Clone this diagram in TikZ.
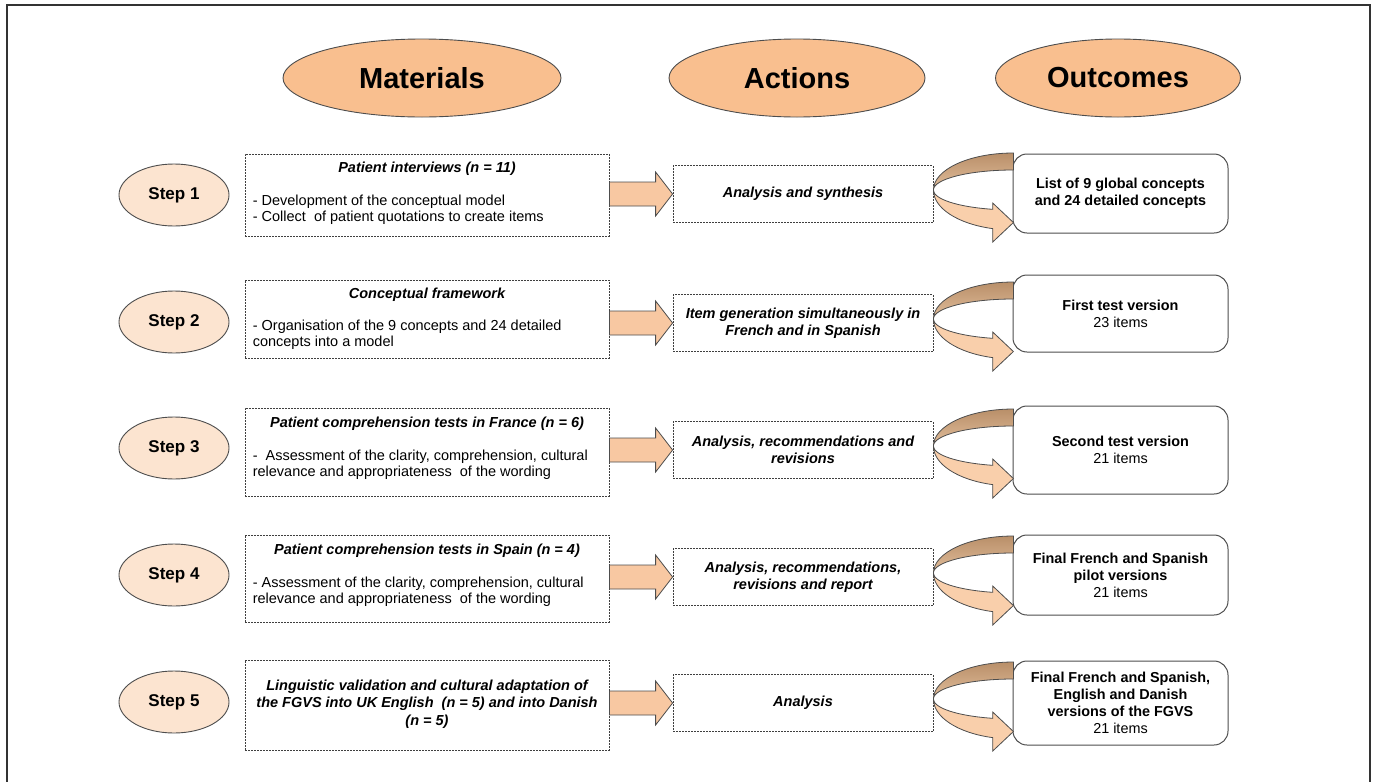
\documentclass[tikz,border=0pt]{standalone}
\usepackage{fontspec}
\setmainfont{Liberation Sans}
\usetikzlibrary{shapes.geometric,calc}
\definecolor{edgec}{HTML}{4D4D4D}
\definecolor{hdrfill}{HTML}{F9BF8F}
\definecolor{stepfill}{HTML}{FCE4D0}
\definecolor{arrfill}{HTML}{F8C8A2}
\definecolor{backtop}{HTML}{B98F69}
\definecolor{backbot}{HTML}{E6C3A1}
\definecolor{frontfill}{HTML}{F9CFAB}
\definecolor{dashc}{HTML}{3F3F3F}
\begin{document}
\begin{tikzpicture}[x=1pt,y=-1pt,
 hdr/.style={ellipse,draw=edgec,fill=hdrfill,line width=0.9pt,inner sep=0pt,minimum height=78pt,font=\bfseries\fontsize{29}{34}\selectfont},
 stepnode/.style={ellipse,draw=edgec,fill=stepfill,line width=0.9pt,minimum width=110pt,minimum height=62pt,inner sep=0pt,font=\bfseries\fontsize{17}{20}\selectfont},
 dbox/.style={draw=dashc,dash pattern=on 2pt off 1pt,line width=0.8pt,inner sep=0pt},
 matbox/.style={dbox,minimum width=364pt},
 actbox/.style={dbox,minimum width=260pt,minimum height=57pt,align=center,font=\bfseries\itshape\fontsize{14.5}{17}\selectfont},
 outbox/.style={draw=edgec,line width=1pt,rounded corners=14pt,minimum width=215pt,inner sep=0pt,align=center,font=\bfseries\fontsize{14.4}{17}\selectfont},
 ttl/.style={font=\bfseries\itshape\fontsize{14.5}{17}\selectfont,inner sep=0pt,align=center},
 body/.style={font=\fontsize{14.5}{16.5}\selectfont,align=left,inner sep=0pt,anchor=west},
 barrow/.style={draw=edgec,fill=arrfill,line width=0.8pt,line join=miter},
 backband/.style={draw=edgec,line width=0.8pt,top color=backtop,bottom color=backbot},
 frontband/.style={draw=edgec,line width=0.8pt,fill=frontfill}
]
\useasboundingbox (0,0) rectangle (1377,782);
\fill[white] (0,0) rectangle (1377,782);
\draw[line width=1.2pt,black!80] (7,782) -- (7,5) -- (1370,5) -- (1370,782);

% headers
\node[hdr,minimum width=278pt] (hm) at (422,78) {Materials};
\node[hdr,minimum width=256pt] (ha) at (797,78) {Actions};
\node[hdr,minimum width=245pt] (ho) at (1118,78) {Outcomes};

% steps
\node[stepnode] (s1) at (174,195) {Step 1};
\node[stepnode] (s2) at (174,322) {Step 2};
\node[stepnode] (s3) at (174,448) {Step 3};
\node[stepnode] (s4) at (174,575) {Step 4};
\node[stepnode] (s5) at (174,702) {Step 5};

% materials
\node[matbox,minimum height=82pt] (m1) at (427,195) {};
\node[ttl] (m1t) at ($(m1.north)+(0,15)$) {Patient interviews (n = 11)};
\node[body] (m1b) at ($(m1.north west)+(8,56)$) {- Development of the conceptual model\\- Collect\ \ of patient quotations to create items};

\node[matbox,minimum height=78pt] (m2) at (427,319) {};
\node[ttl] (m2t) at ($(m2.north)+(0,15)$) {Conceptual framework};
\node[body] (m2b) at ($(m2.north west)+(8,55)$) {- Organisation of the 9 concepts and 24 detailed\\concepts into a model};

\node[matbox,minimum height=88pt] (m3) at (427,452) {};
\node[ttl] (m3t) at ($(m3.north)+(0,16)$) {Patient comprehension tests in France (n = 6)};
\node[body] (m3b) at ($(m3.north west)+(8,57)$) {-\ \ Assessment of the clarity, comprehension, cultural\\relevance and appropriateness\ \ of the wording};

\node[matbox,minimum height=87pt] (m4) at (427,578.5) {};
\node[ttl] (m4t) at ($(m4.north)+(0,16)$) {Patient comprehension tests in Spain (n = 4)};
\node[body] (m4b) at ($(m4.north west)+(8,57)$) {- Assessment of the clarity, comprehension, cultural\\relevance and appropriateness\ \ of the wording};

\node[matbox,minimum height=90pt] (m5) at (427,705) {};
\node[ttl,font=\bfseries\itshape\fontsize{14.5}{17.5}\selectfont] (m5t) at ($(m5.center)+(0,-1)$) {Linguistic validation and cultural adaptation of\\the FGVS into UK English\ \ (n = 5) and into Danish\\(n = 5)};

% actions
\node[actbox] (a1) at (803,194) {Analysis and synthesis};
\node[actbox] (a2) at (803,323) {Item generation simultaneously in\\French and in Spanish};
\node[actbox] (a3) at (803,450) {Analysis, recommendations and\\revisions};
\node[actbox] (a4) at (803,577) {Analysis, recommendations,\\revisions and report};
\node[actbox] (a5) at (803,703) {Analysis};

% outcomes
\node[outbox,minimum height=79pt] (o1) at (1120.5,193.5) {List of 9 global concepts\\and 24 detailed concepts};
\node[outbox,minimum height=77pt] (o2) at (1120.5,313.5) {First test version\\{\mdseries 23 items}};
\node[outbox,minimum height=88pt] (o3) at (1120.5,450) {Second test version\\{\mdseries 21 items}};
\node[outbox,minimum height=80pt] (o4) at (1120.5,575) {Final French and Spanish\\pilot versions\\{\mdseries 21 items}};
\node[outbox,minimum height=84pt] (o5) at (1120.5,703) {Final French and Spanish,\\English and Danish\\versions of the FGVS\\{\mdseries 21 items}};

% block arrows materials -> actions
\foreach \i in {1,...,5}{
 \draw[barrow] let \p1=(m\i.east |- a\i.west), \p2=(a\i.west) in
  (\x1,\y1+12pt) -- (\x2-17pt,\y1+12pt) -- (\x2-17pt,\y1+22pt) -- (\x2,\y1)
  -- (\x2-17pt,\y1-22pt) -- (\x2-17pt,\y1-12pt) -- (\x1,\y1-12pt) -- cycle;
}

% curved arrows actions -> outcomes
\foreach \i in {1,...,5}{
 \draw[backband] (a\i.east) ++(0,-4)
   arc[start angle=180,end angle=90,x radius=80pt,y radius=37pt]
   -- ++(0,17)
   arc[start angle=90,end angle=180,x radius=80pt,y radius=20pt] -- cycle;
 \draw[frontband] (a\i.east) ++(0,-4)
   arc[start angle=180,end angle=255,x radius=80pt,y radius=20pt]
   -- ++(0,-6.3) -- ++(20.7,19.5) -- ++(-20.7,19.5) -- ++(0,-13.4)
   arc[start angle=255,end angle=180,x radius=80pt,y radius=40pt] -- cycle;
}
\end{tikzpicture}
\end{document}
